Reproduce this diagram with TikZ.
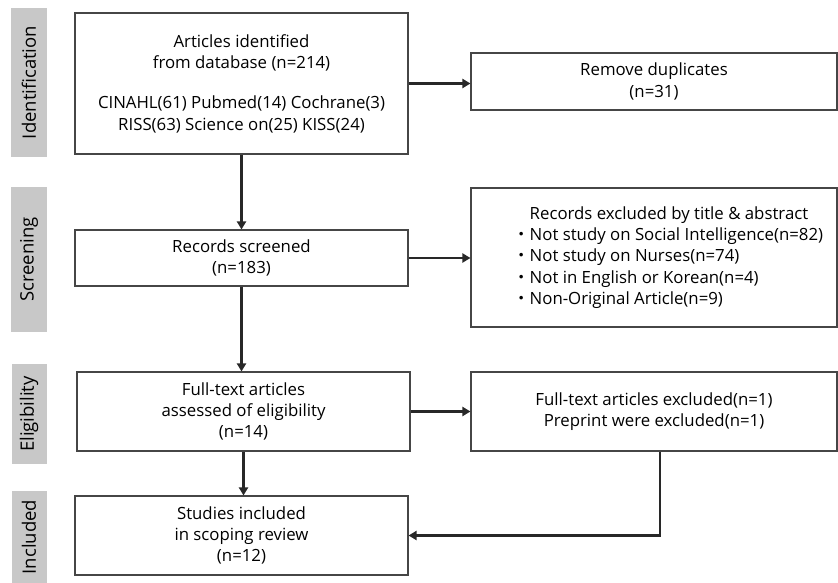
\documentclass[tikz,border=0pt]{standalone}
\usepackage{fontspec}
\setmainfont{Open Sans}
\newfontfamily\cjkfont{Noto Sans CJK KR}
\usetikzlibrary{arrows.meta,calc}
\definecolor{bargray}{RGB}{200,200,200}
\definecolor{boxline}{RGB}{70,70,70}
\definecolor{arrowcol}{RGB}{40,40,40}
\newcommand{\bul}{{\cjkfont ・}}
\newcommand{\exind}{\hspace*{28pt}}
\tikzset{
  stagebar/.style={fill=bargray, draw=none, inner sep=0pt, rotate=90, font=\fontsize{18.5}{22}\selectfont},
  flowbox/.style={draw=boxline, line width=1.1pt, fill=white, inner sep=2pt, align=center, font=\fontsize{16.8}{21.3}\selectfont},
  flowarrow/.style={draw=arrowcol, line width=2.4pt, -{Triangle[length=8pt,width=9pt]}}
}
\begin{document}
\begin{tikzpicture}[x=1pt,y=-1pt]
\useasboundingbox (0,0) rectangle (838,583);
% stage bars
\node[stagebar, minimum width=149pt, minimum height=36pt] (bid) at (29,82.5) {Identification};
\node[stagebar, minimum width=145pt, minimum height=36pt] (bsc) at (29,259.5) {Screening};
\node[stagebar, minimum width=100pt, minimum height=35pt] (bel) at (29,414) {Eligibility};
\node[stagebar, minimum width=92pt, minimum height=35pt] (bin) at (29,537) {Included};
% boxes
\node[flowbox, minimum width=333pt, minimum height=141pt] (ident) at (241.5,83.5)
  {Articles identified\\from database (n=214)\\[19pt]CINAHL(61) Pubmed(14) Cochrane(3)\\RISS(63) Science on(25) KISS(24)};
\node[flowbox, minimum width=366pt, minimum height=57pt] (dup) at (654,81.5)
  {Remove duplicates\\(n=31)};
\node[flowbox, minimum width=333pt, minimum height=56pt] (scr) at (241.5,258)
  {Records screened\\(n=183)};
\node[flowbox, minimum width=366pt, minimum height=139pt, align=left] (exc) at (654,257.5)
  {\exind\hspace*{1em}Records excluded by title \& abstract\\
   \exind\bul Not study on Social Intelligence(n=82)\\
   \exind\bul Not study on Nurses(n=74)\\
   \exind\bul Not in English or Korean(n=4)\\
   \exind\bul Non-Original Article(n=9)};
\node[flowbox, minimum width=333pt, minimum height=79pt] (ft) at (243.5,411.5)
  {Full-text articles\\assessed of eligibility\\(n=14)};
\node[flowbox, minimum width=366pt, minimum height=79pt] (fte) at (654,411.5)
  {Full-text articles excluded(n=1)\\Preprint were excluded(n=1)};
\node[flowbox, minimum width=333pt, minimum height=79pt] (inc) at (241.5,535.5)
  {Studies included\\in scoping review\\(n=12)};
\coordinate (ftefoot) at ([xshift=6pt]fte.south);
% connectors
\draw[flowarrow] (ident.east) -- (ident.east -| dup.west);
\draw[flowarrow] (ident.south) -- (scr.north);
\draw[flowarrow] (scr.east) -- (scr.east -| exc.west);
\draw[flowarrow] (scr.south) -- (scr.south |- ft.north);
\draw[flowarrow] (ft.east) -- (ft.east -| fte.west);
\draw[flowarrow] (ft.south) -- (ft.south |- inc.north);
\draw[flowarrow] (ftefoot) |- (inc.east);
\end{tikzpicture}
\end{document}
